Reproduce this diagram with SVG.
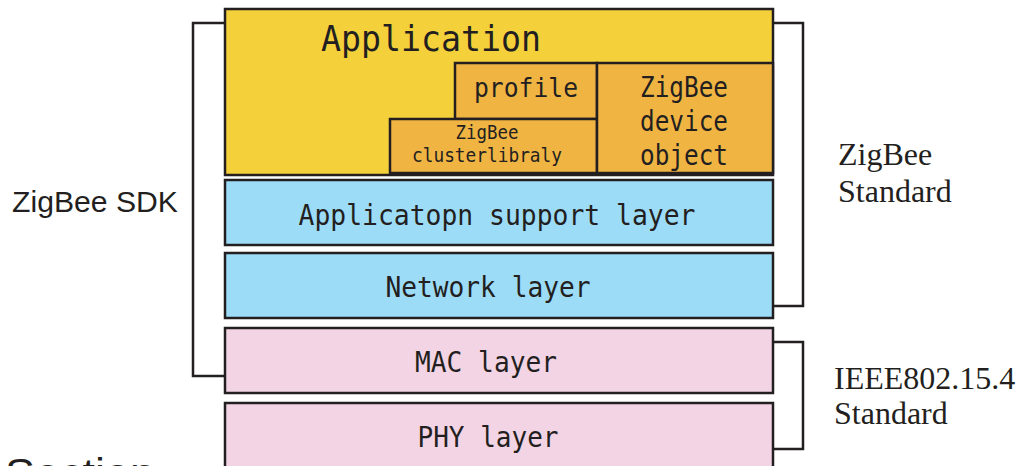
<svg xmlns="http://www.w3.org/2000/svg" width="1019" height="466" viewBox="0 0 1019 466">
<style>
.box{stroke:#231f20;stroke-width:2.5}
.app{fill:#f4d13b}
.org{fill:#f0b443}
.blue{fill:#9ddcf7}
.pink{fill:#f3d4e5}
.br{fill:none;stroke:#231f20;stroke-width:2.5}
.m{font-family:"DejaVu Sans Mono",monospace;fill:#231f20;text-anchor:middle}
.s{font-family:"Liberation Serif",serif;fill:#231f20;font-size:32px}
.sa{font-family:"Liberation Sans",sans-serif;fill:#231f20}
</style>
<g id="connectors">
<polyline class="br" points="225,23 193,23 193,376 225,376"/>
<polyline class="br" points="773,23 803,23 803,306 773,306"/>
<polyline class="br" points="773,342 803,342 803,449 773,449"/>
</g>
<g id="application">
<rect class="box app" x="225" y="9" width="548" height="166"/>
<text class="m" x="431" y="51" font-size="36" textLength="220" lengthAdjust="spacingAndGlyphs">Application</text>
</g>
<g id="profile">
<rect class="box org" x="455" y="63" width="142" height="56"/>
<text class="m" x="526" y="97" font-size="27" textLength="104" lengthAdjust="spacingAndGlyphs">profile</text>
</g>
<g id="cluster">
<rect class="box org" x="390" y="119" width="207" height="54"/>
<text class="m" x="487" y="139" font-size="19" textLength="63" lengthAdjust="spacingAndGlyphs">ZigBee</text>
<text class="m" x="487" y="162" font-size="19" textLength="150" lengthAdjust="spacingAndGlyphs">clusterlibraly</text>
</g>
<g id="zdo">
<rect class="box org" x="597" y="63" width="176" height="110"/>
<text class="m" x="684" y="97" font-size="28" textLength="88" lengthAdjust="spacingAndGlyphs">ZigBee</text>
<text class="m" x="684" y="131" font-size="28" textLength="88" lengthAdjust="spacingAndGlyphs">device</text>
<text class="m" x="684" y="165" font-size="28" textLength="88" lengthAdjust="spacingAndGlyphs">object</text>
</g>
<g id="aps">
<rect class="box blue" x="225" y="180" width="548" height="65"/>
<text class="m" x="497" y="225" font-size="29" textLength="397" lengthAdjust="spacingAndGlyphs">Applicatopn support layer</text>
</g>
<g id="network">
<rect class="box blue" x="225" y="253" width="548" height="65"/>
<text class="m" x="488" y="297" font-size="29" textLength="205" lengthAdjust="spacingAndGlyphs">Network layer</text>
</g>
<g id="mac">
<rect class="box pink" x="225" y="328" width="548" height="65"/>
<text class="m" x="486" y="372" font-size="29" textLength="142" lengthAdjust="spacingAndGlyphs">MAC layer</text>
</g>
<g id="phy">
<rect class="box pink" x="225" y="403" width="548" height="70"/>
<text class="m" x="488" y="447" font-size="29" textLength="141" lengthAdjust="spacingAndGlyphs">PHY layer</text>
</g>
<g id="labels">
<text class="sa" x="12" y="212" font-size="29" textLength="166" lengthAdjust="spacingAndGlyphs">ZigBee SDK</text>
<text class="s" x="838" y="165">ZigBee</text>
<text class="s" x="838" y="202">Standard</text>
<text class="s" x="834" y="389">IEEE802.15.4</text>
<text class="s" x="834" y="424">Standard</text>
<text class="sa" x="5" y="487" font-size="40" textLength="150" lengthAdjust="spacingAndGlyphs">Section</text>
</g>
</svg>
